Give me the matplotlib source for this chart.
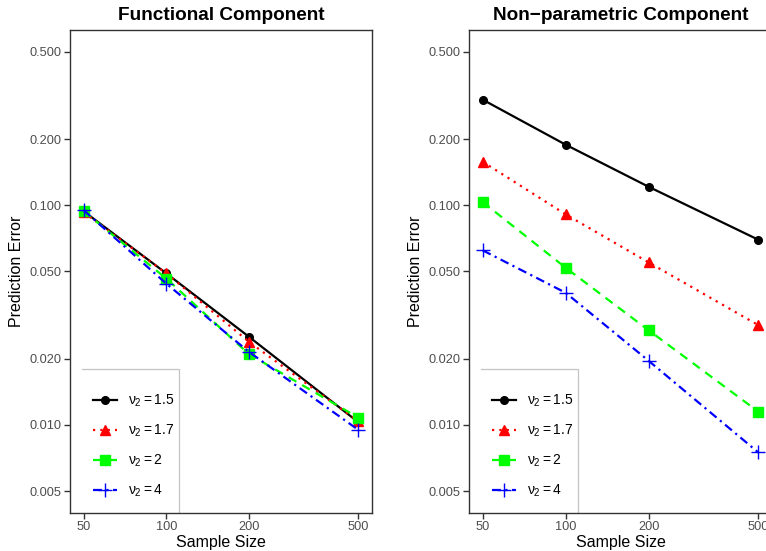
import numpy as np
import matplotlib
matplotlib.use('Agg')
import matplotlib.pyplot as plt
from matplotlib.patches import Rectangle

plt.rcParams['font.family'] = ['Liberation Sans', 'DejaVu Sans']
plt.rcParams['mathtext.fontset'] = 'custom'
plt.rcParams['mathtext.rm'] = 'Liberation Sans'
plt.rcParams['mathtext.it'] = 'Liberation Sans'

# data
sample_size = [50, 100, 200, 500]
nu_labels = ['1.5', '1.7', '2', '4']

functional = {
    '1.5': [0.094, 0.049, 0.0252, 0.0103],
    '1.7': [0.093, 0.049, 0.0239, 0.0104],
    '2':   [0.094, 0.0464, 0.0210, 0.0108],
    '4':   [0.095, 0.044, 0.0215, 0.0095],
}
nonparam = {
    '1.5': [0.303, 0.189, 0.1216, 0.0698],
    '1.7': [0.158, 0.091, 0.055, 0.0285],
    '2':   [0.1035, 0.052, 0.027, 0.0115],
    '4':   [0.0624, 0.040, 0.0196, 0.0075],
}

y_ticks = [0.005, 0.01, 0.02, 0.05, 0.1, 0.2, 0.5]
y_tick_labels = ['0.005', '0.010', '0.020', '0.050', '0.100', '0.200', '0.500']

styles = {
    '1.5': dict(color='black', ls='-', marker='o', ms=5.5, lw=1.6),
    '1.7': dict(color='#FF0000', ls=(0, (1, 2.3)), marker='^', ms=7.5, lw=1.6),
    '2':   dict(color='#00FF00', ls=(0, (4, 3)), marker='s', ms=6.5, lw=1.6),
    '4':   dict(color='#0000FF', ls=(0, (4, 2, 1, 2)), marker='+', ms=10, lw=1.6, mew=1.0),
}

fig = plt.figure(figsize=(7.66, 5.51), dpi=100)
ax1 = fig.add_axes([70 / 766, 1 - 513 / 551, 302 / 766, 483 / 551])
ax2 = fig.add_axes([469 / 766, 1 - 513 / 551, 303 / 766, 483 / 551])


def draw_panel(ax, data, title):
    for nu in nu_labels:
        ax.plot(sample_size, data[nu], label=r'$\nu_2 = $' + nu, **styles[nu])
    ax.set_xscale('log')
    ax.set_yscale('log')
    ax.set_xlim(50 / 10 ** 0.05, 500 * 10 ** 0.05)
    ax.set_ylim(0.005 / 10 ** 0.1, 0.5 * 10 ** 0.1)
    ax.set_xticks(sample_size)
    ax.set_xticklabels([str(s) for s in sample_size])
    ax.set_yticks(y_ticks)
    ax.set_yticklabels(y_tick_labels)
    ax.minorticks_off()
    ax.tick_params(axis='both', length=4, width=1, color='#333333',
                   labelcolor='#4d4d4d', labelsize=9.2, pad=2)
    for sp in ax.spines.values():
        sp.set_color('#333333')
        sp.set_linewidth(1)
        sp.set_zorder(5)
    ax.set_xlabel('Sample Size', fontsize=11.5, labelpad=1)
    ax.set_ylabel('Prediction Error', fontsize=11.5, labelpad=4)
    ax.set_title(title, fontsize=13.7, fontweight='bold', pad=7)

    # legend box: white, only top and right edges show
    x0, x1, y1 = 12 / 302, 109 / 302, 144 / 483
    ax.add_patch(Rectangle((x0, 0), x1 - x0, y1, transform=ax.transAxes,
                           facecolor='white', edgecolor='none', zorder=3))
    ax.plot([x0, x1, x1], [y1, y1, 0], transform=ax.transAxes,
            color='#c4c4c4', lw=0.9, zorder=3, solid_joinstyle='miter')
    leg = ax.legend(loc='upper left', bbox_to_anchor=(23 / 302, 120 / 483),
                    borderaxespad=0, borderpad=0, fontsize=10, frameon=False,
                    handlelength=1.7, handletextpad=0.8, labelspacing=0.98)
    leg.set_zorder(4)


draw_panel(ax1, functional, 'Functional Component')
draw_panel(ax2, nonparam, 'Non\u2212parametric Component')

fig.savefig('out.png', dpi=100)
